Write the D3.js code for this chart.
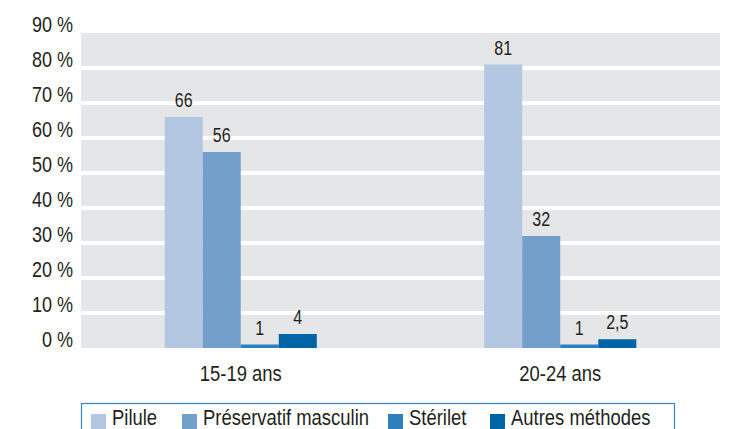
<!DOCTYPE html>
<html>
<head>
<meta charset="utf-8">
<script src="https://cdn.jsdelivr.net/npm/d3@7"></script>
<style>
  body { margin: 0; background: #fff; }
  svg text { font-family: "Liberation Sans", Arial, sans-serif; fill: #231f20; }
</style>
</head>
<body>
<svg id="chart" width="737" height="429"></svg>
<script>
// data
const groups = ["15-19 ans", "20-24 ans"]
const series = ["Pilule", "Préservatif masculin", "Stérilet", "Autres méthodes"]
const values15 = [66, 56, 1, 4]
const values20 = [81, 32, 1, 2.5]
const valueLabels15 = ["66", "56", "1", "4"]
const valueLabels20 = ["81", "32", "1", "2,5"]
const yTicks = [0, 10, 20, 30, 40, 50, 60, 70, 80, 90]
const colors = ["#b3c7e2", "#73a0cb", "#2f7ebd", "#0064a7"]

const rows = groups.map((g, i) => ({
    group: g,
    vals: series.map((s, j) => ({
        s: s,
        v: i == 0 ? values15[j] : values20[j],
        label: i == 0 ? valueLabels15[j] : valueLabels20[j]
    }))
}))

const svg = d3.select("svg#chart")
const plotLeft = 81, plotRight = 720, plotTop = 33, plotBottom = 348
const narrow = 0.82   // squeeze Liberation Sans to look like a condensed face

const y = d3.scaleLinear().domain([0, 90]).range([plotBottom, plotTop])
const x0 = d3.scaleBand().domain(groups).range([plotLeft, plotRight])
const x1 = d3.scaleBand().domain(series)
                .range([0, x0.bandwidth()])
                .paddingInner(0)
                .paddingOuter(2.2)
const color = d3.scaleOrdinal().domain(series).range(colors)

// grey plot background
svg.append("rect")
    .attr("x", plotLeft).attr("y", y(90))
    .attr("width", plotRight - plotLeft).attr("height", y(0) - y(90))
    .attr("fill", "#e5e6e8")

// white gridlines
svg.selectAll("line.grid")
    .data(yTicks.filter(d => d > 0 && d < 90))
    .join("line")
    .attr("class", "grid")
    .attr("x1", plotLeft).attr("x2", plotRight)
    .attr("y1", d => y(d)).attr("y2", d => y(d))
    .attr("stroke", "#fff")
    .attr("stroke-width", 4)

// y axis labels
svg.selectAll("text.ytick")
    .data(yTicks)
    .join("text")
    .attr("class", "ytick")
    .attr("transform", d => `translate(73,${y(d) - 1}) scale(${narrow},1)`)
    .attr("text-anchor", "end")
    .attr("font-size", "22px")
    .text(d => d + " %")

// bars
const g = svg.selectAll("g.group")
    .data(rows)
    .join("g")
    .attr("class", "group")
    .attr("transform", d => `translate(${x0(d.group)},0)`)

g.selectAll("rect.bar")
    .data(d => d.vals)
    .join("rect")
    .attr("class", "bar")
    .attr("x", d => x1(d.s))
    .attr("width", x1.bandwidth())
    .attr("y", d => y(d.v))
    .attr("height", d => y(0) - y(d.v))
    .attr("fill", d => color(d.s))

g.selectAll("text.val")
    .data(d => d.vals)
    .join("text")
    .attr("class", "val")
    .attr("transform", d => `translate(${x1(d.s) + x1.bandwidth() / 2},${y(d.v) - 10}) scale(${narrow},1)`)
    .attr("text-anchor", "middle")
    .attr("font-size", "19.5px")
    .text(d => d.label)

// x labels
svg.selectAll("text.xlab")
    .data(groups)
    .join("text")
    .attr("class", "xlab")
    .attr("transform", d => `translate(${x0(d) + x0.bandwidth() / 2},381) scale(${narrow},1)`)
    .attr("text-anchor", "middle")
    .attr("font-size", "22.5px")
    .text(d => d)

// legend
svg.append("rect")
    .attr("x", 81.5).attr("y", 403.5)
    .attr("width", 593).attr("height", 40)
    .attr("fill", "none")
    .attr("stroke", "#3584c2")
    .attr("stroke-width", 1.2)

const legX = [91, 182, 388, 490]
const leg = svg.selectAll("g.leg")
    .data(series)
    .join("g")
    .attr("class", "leg")
    .attr("transform", (d, i) => `translate(${legX[i]},0)`)

leg.append("rect")
    .attr("y", 414).attr("width", 15).attr("height", 15)
    .attr("fill", d => color(d))

leg.append("text")
    .attr("transform", `translate(21,425) scale(${narrow},1)`)
    .attr("font-size", "22.5px")
    .text(d => d)
</script>
</body>
</html>
